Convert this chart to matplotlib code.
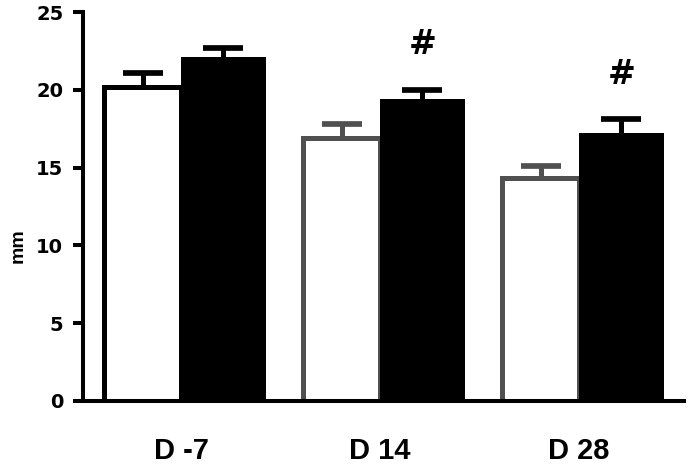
import matplotlib
matplotlib.use("Agg")
import matplotlib.pyplot as plt
import numpy as np

# data
days = ["D -7", "D 14", "D 28"]
white_vals = [20.2, 16.9, 14.3]
white_err = [0.9, 0.9, 0.8]
black_vals = [22.1, 19.4, 17.2]
black_err = [0.6, 0.6, 0.9]
significant = [False, True, True]
yticks = [0, 5, 10, 15, 20, 25]

white_edges = ["black", "#505050", "#505050"]

plt.rcParams["font.family"] = ["Liberation Sans", "DejaVu Sans"]
plt.rcParams["font.weight"] = "bold"

fig = plt.figure(figsize=(6.9, 4.66), dpi=100)
ax = fig.add_axes([83 / 690, 65 / 466, 601 / 690, 389 / 466])

x = np.arange(len(days))
ww = 0.385
bw = 0.427
lw = 3.6


def up_error(xc, val, err, color):
    eb = ax.errorbar(xc, val, yerr=[[0], [err]], fmt="none", ecolor=color,
                     elinewidth=3.6, capsize=14.4, capthick=4.1, zorder=1)
    # only the upper cap is wanted
    for cl in eb[1]:
        if abs(cl.get_ydata()[0] - val) < 1e-9:
            cl.set_visible(False)


ax.bar(x, white_vals, width=-ww, align="edge", color="white",
       edgecolor=white_edges, linewidth=lw, zorder=2)
ax.bar(x, black_vals, width=bw, align="edge", color="black",
       edgecolor="none", zorder=3)

for i in range(len(days)):
    up_error(x[i] - ww / 2, white_vals[i], white_err[i], white_edges[i])
    up_error(x[i] + bw / 2, black_vals[i], black_err[i], "black")
    if significant[i]:
        ax.text(x[i] + bw / 2, black_vals[i] + black_err[i] + 2.9, "#",
                ha="center", va="center", fontsize=24, fontweight="bold",
                family="DejaVu Sans")

ax.set_xlim(-0.4925, 2.528)
ax.set_ylim(0, 25)
ax.set_yticks(yticks)
ax.set_yticklabels([str(t) for t in yticks], family="DejaVu Sans",
                   fontsize=14, fontweight="bold")
ax.set_xticks(x)
ax.set_xticklabels(days, fontsize=21, fontweight="bold")
ax.tick_params(axis="x", length=0, pad=26)
ax.tick_params(axis="y", length=7.2, width=2.9, pad=7)
ax.set_ylabel("mm", fontsize=14, fontweight="bold")
ax.yaxis.set_label_coords(-0.094, 0.40)

for s in ["top", "right"]:
    ax.spines[s].set_visible(False)
for s in ["left", "bottom"]:
    ax.spines[s].set_linewidth(2.9)
ax.spines["left"].set_zorder(5)
ax.spines["bottom"].set_zorder(5)

fig.savefig("out.png", dpi=100)
